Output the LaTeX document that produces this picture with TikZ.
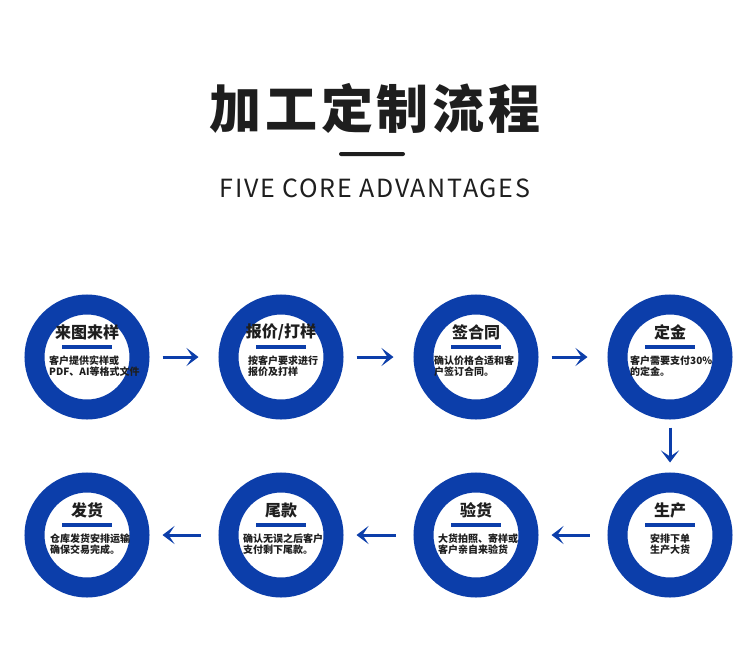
\documentclass[tikz,border=0pt]{standalone}
\usepackage{fontspec}
\setmainfont{Noto Sans CJK SC}
\newfontfamily\cjkspaced[LetterSpace=7]{Noto Sans CJK SC}
\newfontfamily\latspaced[LetterSpace=7]{Noto Sans CJK SC}
\usetikzlibrary{arrows.meta}
\definecolor{ringblue}{RGB}{12,62,170}
\definecolor{ink}{RGB}{30,30,30}
\tikzset{
  ring/.style={circle, draw=ringblue, line width=20pt, minimum size=105pt, inner sep=0pt},
  stitle/.style={font=\bfseries\fontsize{16}{16}\selectfont, text=ink, inner sep=0pt},
  sbar/.style={fill=ringblue, minimum width=50pt, minimum height=4pt, inner sep=0pt},
  sline/.style={font=\bfseries\fontsize{10}{10}\selectfont, text=ink, inner sep=0pt, anchor=west},
  flow/.style={draw=ringblue, line width=3pt, -{Stealth[length=12pt,width=18pt,inset=6pt]}},
}
\newcommand\procstep[7]{%
  \node[ring] (#1) at (#2,#3) {};
  \node[stitle, yshift=25pt] (#1t) at (#2,#3) {#4};
  \node[sbar, yshift=10pt] (#1b) at (#2,#3) {};
  \node[sline, xshift=#7pt, yshift=-4pt] (#1a) at (#2,#3) {#5};
  \node[sline, xshift=#7pt, yshift=-15pt] (#1c) at (#2,#3) {#6};
}
\begin{document}
\begin{tikzpicture}[x=1pt,y=-1pt]
\useasboundingbox[fill=white] (0,0) rectangle (750,670);
\node[font=\cjkspaced\bfseries\fontsize{52}{52}\selectfont, text=ink, inner sep=0pt] (title) at (375,108) {加工定制流程};
\node[fill=ink, minimum width=66pt, minimum height=4pt, inner sep=0pt, rounded corners=2pt] (rule) at (372,154) {};
\node[font=\latspaced\fontsize{25}{25}\selectfont, text=ink, inner sep=0pt] (sub) at (375,188) {FIVE CORE ADVANTAGES};

\procstep{c1}{87}{357}{来图来样}{客户提供实样或}{PDF、AI等格式文件}{-38}
\procstep{c2}{281}{357}{报价/打样}{按客户要求进行}{报价及打样}{-33}
\procstep{c3}{476}{357}{签合同}{确认价格合适和客}{户签订合同。}{-42}
\procstep{c4}{670}{357}{定金}{客户需要支付30\%}{的定金。}{-40}
\procstep{c5}{87}{535}{发货}{仓库发货安排运输}{确保交易完成。}{-37}
\procstep{c6}{281}{535}{尾款}{确认无误之后客户}{支付剩下尾款。}{-38}
\procstep{c7}{476}{535}{验货}{大货拍照、寄样或}{客户亲自来验货}{-38}
\procstep{c8}{670}{535}{生产}{安排下单}{生产大货}{-20}

\draw[flow, shorten <=13pt, shorten >=20pt] (c1.east) -- (c2.west);
\draw[flow, shorten <=13pt, shorten >=20pt] (c2.east) -- (c3.west);
\draw[flow, shorten <=13pt, shorten >=20pt] (c3.east) -- (c4.west);
\draw[flow, shorten <=8pt, shorten >=10pt] (c4.south) -- (c8.north);
\draw[flow, shorten <=18pt, shorten >=13pt] (c8.west) -- (c7.east);
\draw[flow, shorten <=18pt, shorten >=13pt] (c7.west) -- (c6.east);
\draw[flow, shorten <=18pt, shorten >=13pt] (c6.west) -- (c5.east);
\end{tikzpicture}
\end{document}
